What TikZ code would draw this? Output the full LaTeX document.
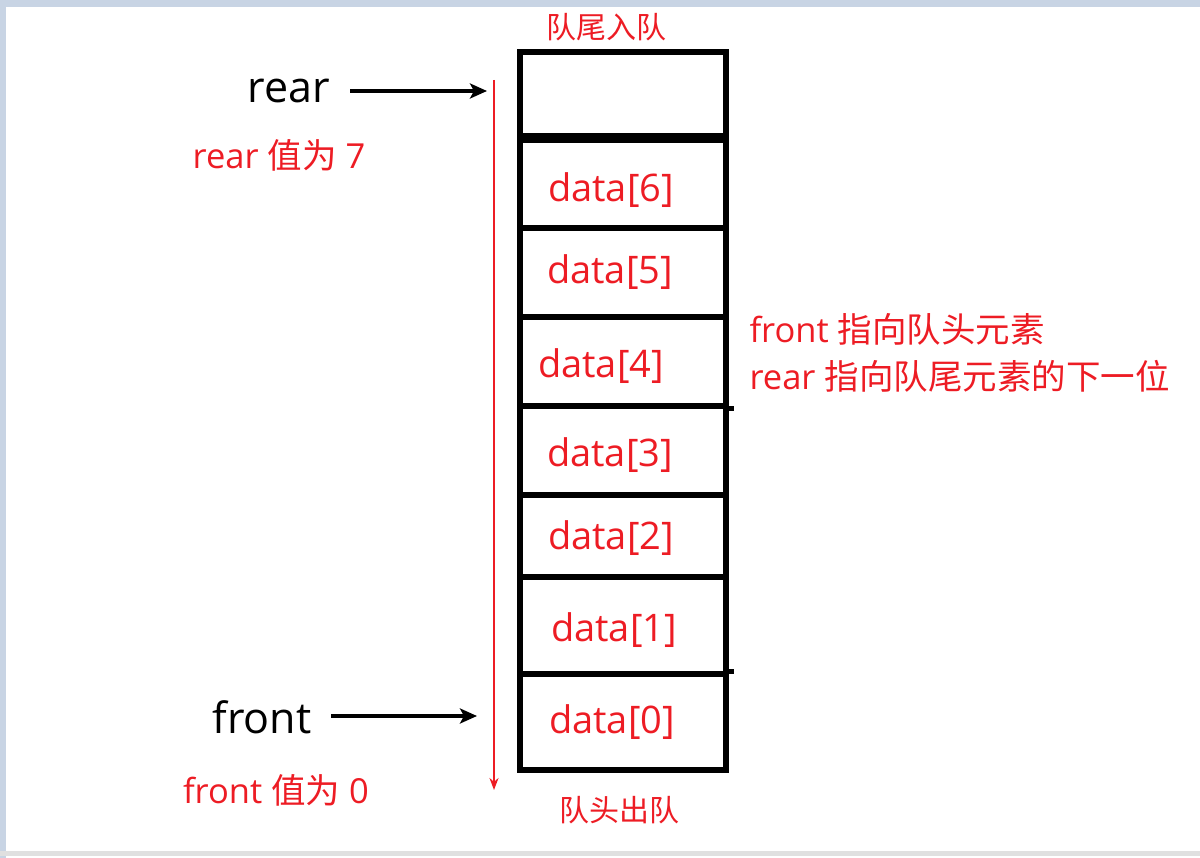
\documentclass[tikz,border=0pt]{standalone}
\usepackage{fontspec}
\setmainfont{Open Sans}
\newfontfamily\cjk{Noto Sans CJK SC}
\usetikzlibrary{positioning,arrows.meta}
\definecolor{qred}{RGB}{237,28,36}
\definecolor{framebg}{RGB}{200,212,228}

\begin{document}
\begin{tikzpicture}[x=1pt, y=-1pt,
  cell/.style={draw, line width=6pt, minimum width=206pt, inner sep=0pt},
  val/.style={text=qred, font=\fontsize{38}{44}\selectfont},
  note/.style={text=qred, font=\fontsize{34.5}{40}\selectfont},
  cjknote/.style={text=qred, font=\cjk\fontsize{30}{36}\selectfont},
  ptrname/.style={font=\fontsize{43}{50}\selectfont, inner xsep=20pt, outer sep=0pt},
  ptr/.style={-{Stealth[length=17pt, width=15pt, inset=4pt]}, line width=3.5pt},
  scan/.style={-{Stealth[length=12pt, width=9pt]}, qred, line width=2pt}
]
\useasboundingbox (0,0) rectangle (1200,858);
\fill[framebg] (0,0) rectangle (1200,7);
\fill[framebg] (0,0) rectangle (6,858);
\fill[black!12] (0,851) rectangle (1200,856);

\node[cell, minimum height=83.5pt] (c7) at (623,94.25) {};
\node[cell, minimum height=88pt] (c6) at (623,184) {};
\node[cell, minimum height=89pt] (c5) at (623,272.5) {};
\node[cell, minimum height=89pt] (c4) at (623,361.5) {};
\node[cell, minimum height=89pt] (c3) at (623,450.5) {};
\node[cell, minimum height=82pt] (c2) at (623,536) {};
\node[cell, minimum height=97pt] (c1) at (623,625.5) {};
\node[cell, minimum height=96pt] (c0) at (623,722) {};
\draw[line width=5pt] (c4.south east) -- ++(5,0);
\draw[line width=5pt] (c0.north east) -- ++(5,0);

\node[val] (v6) at (611,190) {data[6]};
\node[val] (v5) at (610,272) {data[5]};
\node[val] (v4) at (601,366) {data[4]};
\node[val] (v3) at (610,455) {data[3]};
\node[val] (v2) at (611,538) {data[2]};
\node[val] (v1) at (614,630) {data[1]};
\node[val] (v0) at (612,722) {data[0]};

\node[cjknote] (enq) at (606,27) {队尾入队};
\node[cjknote] (deq) at (619,810) {队头出队};

\node[ptrname] (rear) at (289,91) {rear};
\node[ptrname] (front) at (262,717) {front};
\node[note] (rearval) at (279,155) {rear {\cjk 值为} 7};
\node[note] (frontval) at (276,790) {front {\cjk 值为} 0};
\node[note, anchor=west] (rule1) at (746,329) {front {\cjk 指向队头元素}};
\node[note, anchor=west] (rule2) at (746,376) {rear {\cjk 指向队尾元素的下一位}};

\coordinate (rearhit) at (487,91);
\coordinate (fronthit) at (477,716);
\coordinate (scantop) at (494,80);
\coordinate (scanend) at (494,790);

\draw[ptr] (rear.east |- rearhit) -- (rearhit);
\draw[ptr] (front.east |- fronthit) -- (fronthit);
\draw[scan] (scantop) -- (scanend);
\end{tikzpicture}
\end{document}
